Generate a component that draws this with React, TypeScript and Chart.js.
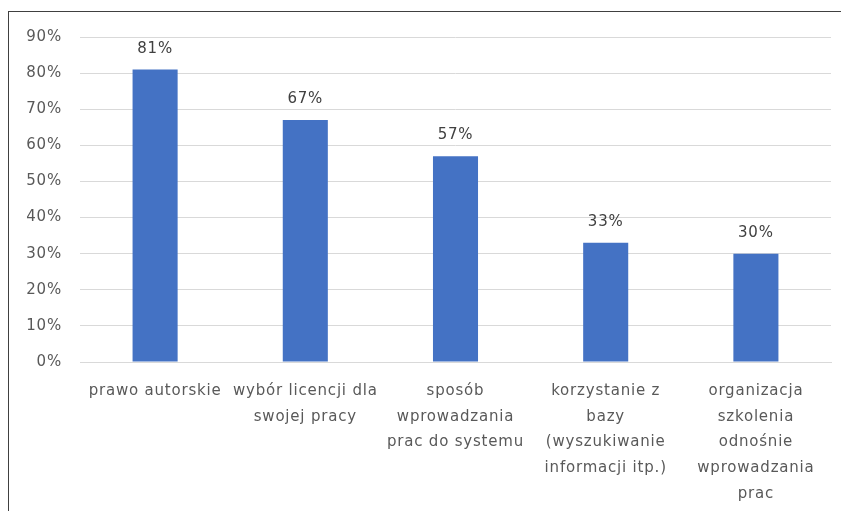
import React, { useEffect, useRef } from "react";
import { Chart, registerables } from "chart.js";

Chart.register(...registerables);

const categories: string[][] = [
  ["prawo autorskie"],
  ["wybór licencji dla", "swojej pracy"],
  ["sposób", "wprowadzania", "prac do systemu"],
  ["korzystanie z", "bazy", "(wyszukiwanie", "informacji itp.)"],
  ["organizacja", "szkolenia", "odnośnie", "wprowadzania", "prac"],
];
const values: number[] = [0.81, 0.67, 0.57, 0.33, 0.3];
const yMin = 0;
const yMax = 0.9;
const yStep = 0.1;

const FONT = '"DejaVu Sans", sans-serif';

const spacingPlugin = {
  id: "letterSpacing",
  beforeUpdate(chart: any) {
    chart.ctx.letterSpacing = "0.8px";
  },
  beforeDraw(chart: any) {
    chart.ctx.letterSpacing = "0.8px";
  },
};

const dataLabelPlugin = {
  id: "dataLabels",
  afterDatasetsDraw(chart: any) {
    const ctx = chart.ctx;
    const meta = chart.getDatasetMeta(0);
    ctx.save();
    ctx.font = `15px ${FONT}`;
    ctx.fillStyle = "#404040";
    ctx.textAlign = "center";
    ctx.textBaseline = "alphabetic";
    meta.data.forEach((bar: any, i: number) => {
      ctx.fillText(Math.round(values[i] * 100) + "%", bar.x, bar.y - 17);
    });
    ctx.restore();
  },
};

export default function App() {
  const ref = useRef<HTMLCanvasElement | null>(null);
  useEffect(() => {
    if (!ref.current) return;
    const chart = new Chart(ref.current, {
      type: "bar",
      data: {
        labels: categories as any,
        datasets: [
          {
            data: values,
            backgroundColor: "#4472C4",
            barPercentage: 0.3,
            categoryPercentage: 1,
          },
        ],
      },
      options: {
        responsive: false,
        animation: false,
        layout: { padding: { left: 0, top: 37, right: 10, bottom: 0 } },
        plugins: {
          legend: { display: false },
          tooltip: { enabled: false },
        },
        scales: {
          x: {
            grid: { display: false },
            border: { display: true, color: "#d9d9d9" },
            ticks: {
              autoSkip: false,
              maxRotation: 0,
              minRotation: 0,
              padding: 8,
              color: "#595959",
              font: { family: FONT, size: 15, lineHeight: 1.72 },
            },
            afterFit: (scale: any) => {
              scale.height = 149;
            },
          },
          y: {
            min: yMin,
            max: yMax,
            grid: { color: "#d9d9d9", drawTicks: false },
            border: { display: false },
            ticks: {
              stepSize: yStep,
              padding: 18,
              color: "#595959",
              font: { family: FONT, size: 15 },
              callback: (v: any) => Math.round(Number(v) * 100) + "%",
            },
            afterFit: (scale: any) => {
              scale.width = 80;
            },
          },
        },
      },
      plugins: [spacingPlugin, dataLabelPlugin],
    });
    return () => chart.destroy();
  }, []);

  return (
    <div
      style={{
        position: "absolute",
        left: 0,
        top: 0,
        width: 841,
        height: 511,
        overflow: "hidden",
        background: "#fff",
      }}
    >
      <div
        style={{
          position: "absolute",
          left: 8,
          top: 11,
          width: 900,
          height: 600,
          border: "1px solid #404040",
        }}
      />
      <canvas
        ref={ref}
        width={841}
        height={511}
        style={{ position: "absolute", left: 0, top: 0 }}
      />
    </div>
  );
}
